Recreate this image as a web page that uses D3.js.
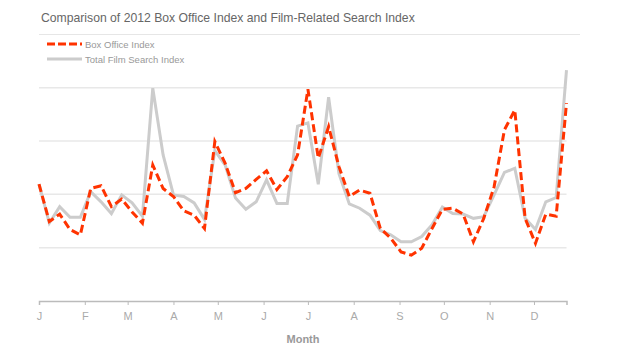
<!DOCTYPE html>
<html>
<head>
<meta charset="utf-8">
<script src="https://cdn.jsdelivr.net/npm/d3@7"></script>
<style>
  body { margin: 0; background: #fff; }
  text { font-family: "Liberation Sans", Arial, Helvetica, sans-serif; }
</style>
</head>
<body>
<div id="chart"></div>
<script>
// weekly points, first week starting Jan 1 2012
var startDate = new Date(2012, 0, 1);
var boxOffice = [2.19, 1.49, 1.63, 1.34, 1.24, 2.11, 2.16, 1.77, 1.91, 1.67,
                 1.46, 2.55, 2.11, 1.96, 1.69, 1.61, 1.36, 2.99, 2.58, 2.03,
                 2.11, 2.28, 2.44, 2.09, 2.33, 2.74, 3.97, 2.68, 3.27, 2.52,
                 1.96, 2.08, 2.02, 1.36, 1.18, 0.92, 0.86, 0.99, 1.36, 1.72,
                 1.74, 1.63, 1.11, 1.55, 2.14, 3.21, 3.58, 1.55, 1.08, 1.63,
                 1.59, 3.71];
var filmSearch = [2.19, 1.46, 1.77, 1.57, 1.57, 2.05, 1.86, 1.64, 1.99, 1.84,
                  1.59, 3.99, 2.74, 1.99, 1.96, 1.84, 1.53, 2.82, 2.55, 1.93,
                  1.72, 1.86, 2.27, 1.83, 1.83, 3.28, 3.34, 2.19, 3.82, 2.39,
                  1.82, 1.74, 1.61, 1.32, 1.24, 1.11, 1.11, 1.21, 1.43, 1.76,
                  1.64, 1.63, 1.55, 1.58, 1.99, 2.41, 2.49, 1.55, 1.34, 1.86,
                  1.94, 4.33];
var gridValues = [1, 2, 3, 4];
var monthLabels = ["J", "F", "M", "A", "M", "J", "J", "A", "S", "O", "N", "D"];
var seriesNames = ["Box Office Index", "Total Film Search Index"];

var dates = boxOffice.map(function (d, i) { return d3.timeDay.offset(startDate, i * 7); });

var svg = d3.select("#chart")
            .append("svg")
            .attr("width", 620)
            .attr("height", 363);

var x = d3.scaleTime()
          .domain([startDate, dates[dates.length - 1]])
          .range([39, 566.5]);

var y = d3.scaleLinear()
          .domain([0, 4])
          .range([301, 87.7]);

// title + rule
svg.append("text")
   .attr("x", 41)
   .attr("y", 22)
   .style("font-size", "12.2px")
   .style("fill", "#666")
   .text("Comparison of 2012 Box Office Index and Film-Related Search Index");

svg.append("line")
   .attr("x1", 39).attr("x2", 580)
   .attr("y1", 34.5).attr("y2", 34.5)
   .style("stroke", "#e6e6e6")
   .style("stroke-width", 1);

// grid
svg.append("g")
   .attr("class", "grid")
   .selectAll("line")
   .data(gridValues)
   .enter()
   .append("line")
   .attr("x1", 39)
   .attr("x2", 566.5)
   .attr("y1", function (d) { return y(d); })
   .attr("y2", function (d) { return y(d); })
   .style("stroke", "#e8e8e8")
   .style("stroke-width", 1.5);

// x axis
var monthTicks = d3.timeMonth.range(startDate, new Date(2012, 11, 2));
var xAxis = d3.axisBottom(x)
              .tickValues(monthTicks)
              .tickSize(4)
              .tickPadding(7)
              .tickFormat(function (d, i) { return monthLabels[i]; });

var gx = svg.append("g")
            .attr("transform", "translate(0,301)")
            .call(xAxis);

gx.select(".domain").style("stroke", "#bbb").style("stroke-width", 1.5);
gx.selectAll(".tick line").style("stroke", "#bbb");
gx.selectAll(".tick text")
  .style("font-size", "11px")
  .style("fill", "#aaa")
  .style("font-family", "'Liberation Sans', Arial, sans-serif");

svg.append("text")
   .attr("x", 303)
   .attr("y", 343)
   .style("text-anchor", "middle")
   .style("font-size", "11px")
   .style("font-weight", "bold")
   .style("fill", "#999")
   .text("Month");

// lines
var lineGenerator = d3.line()
                      .x(function (d, i) { return x(dates[i]); })
                      .y(function (d) { return y(d); });

svg.append("path")
   .attr("d", lineGenerator(filmSearch))
   .style("fill", "none")
   .style("stroke", "#cccccc")
   .style("stroke-width", 3)
   .style("stroke-linejoin", "miter");

svg.append("path")
   .attr("d", lineGenerator(boxOffice))
   .style("fill", "none")
   .style("stroke", "#ff3300")
   .style("stroke-width", 3)
   .style("stroke-dasharray", "8,4");

// legend
var legend = svg.append("g")
                .attr("class", "legend")
                .selectAll("g")
                .data(seriesNames)
                .enter()
                .append("g")
                .attr("transform", function (d, i) { return "translate(47," + (44 + i * 15) + ")"; });

legend.append("line")
      .attr("x1", 0).attr("x2", 35)
      .attr("y1", 0).attr("y2", 0)
      .style("stroke", function (d, i) { return i == 0 ? "#ff3300" : "#cccccc"; })
      .style("stroke-width", 3)
      .style("stroke-dasharray", function (d, i) { return i == 0 ? "8,3" : null; });

legend.append("text")
      .attr("x", 38)
      .attr("y", 4)
      .style("font-size", "9.5px")
      .style("fill", "#999")
      .text(function (d) { return d; });
</script>
</body>
</html>
